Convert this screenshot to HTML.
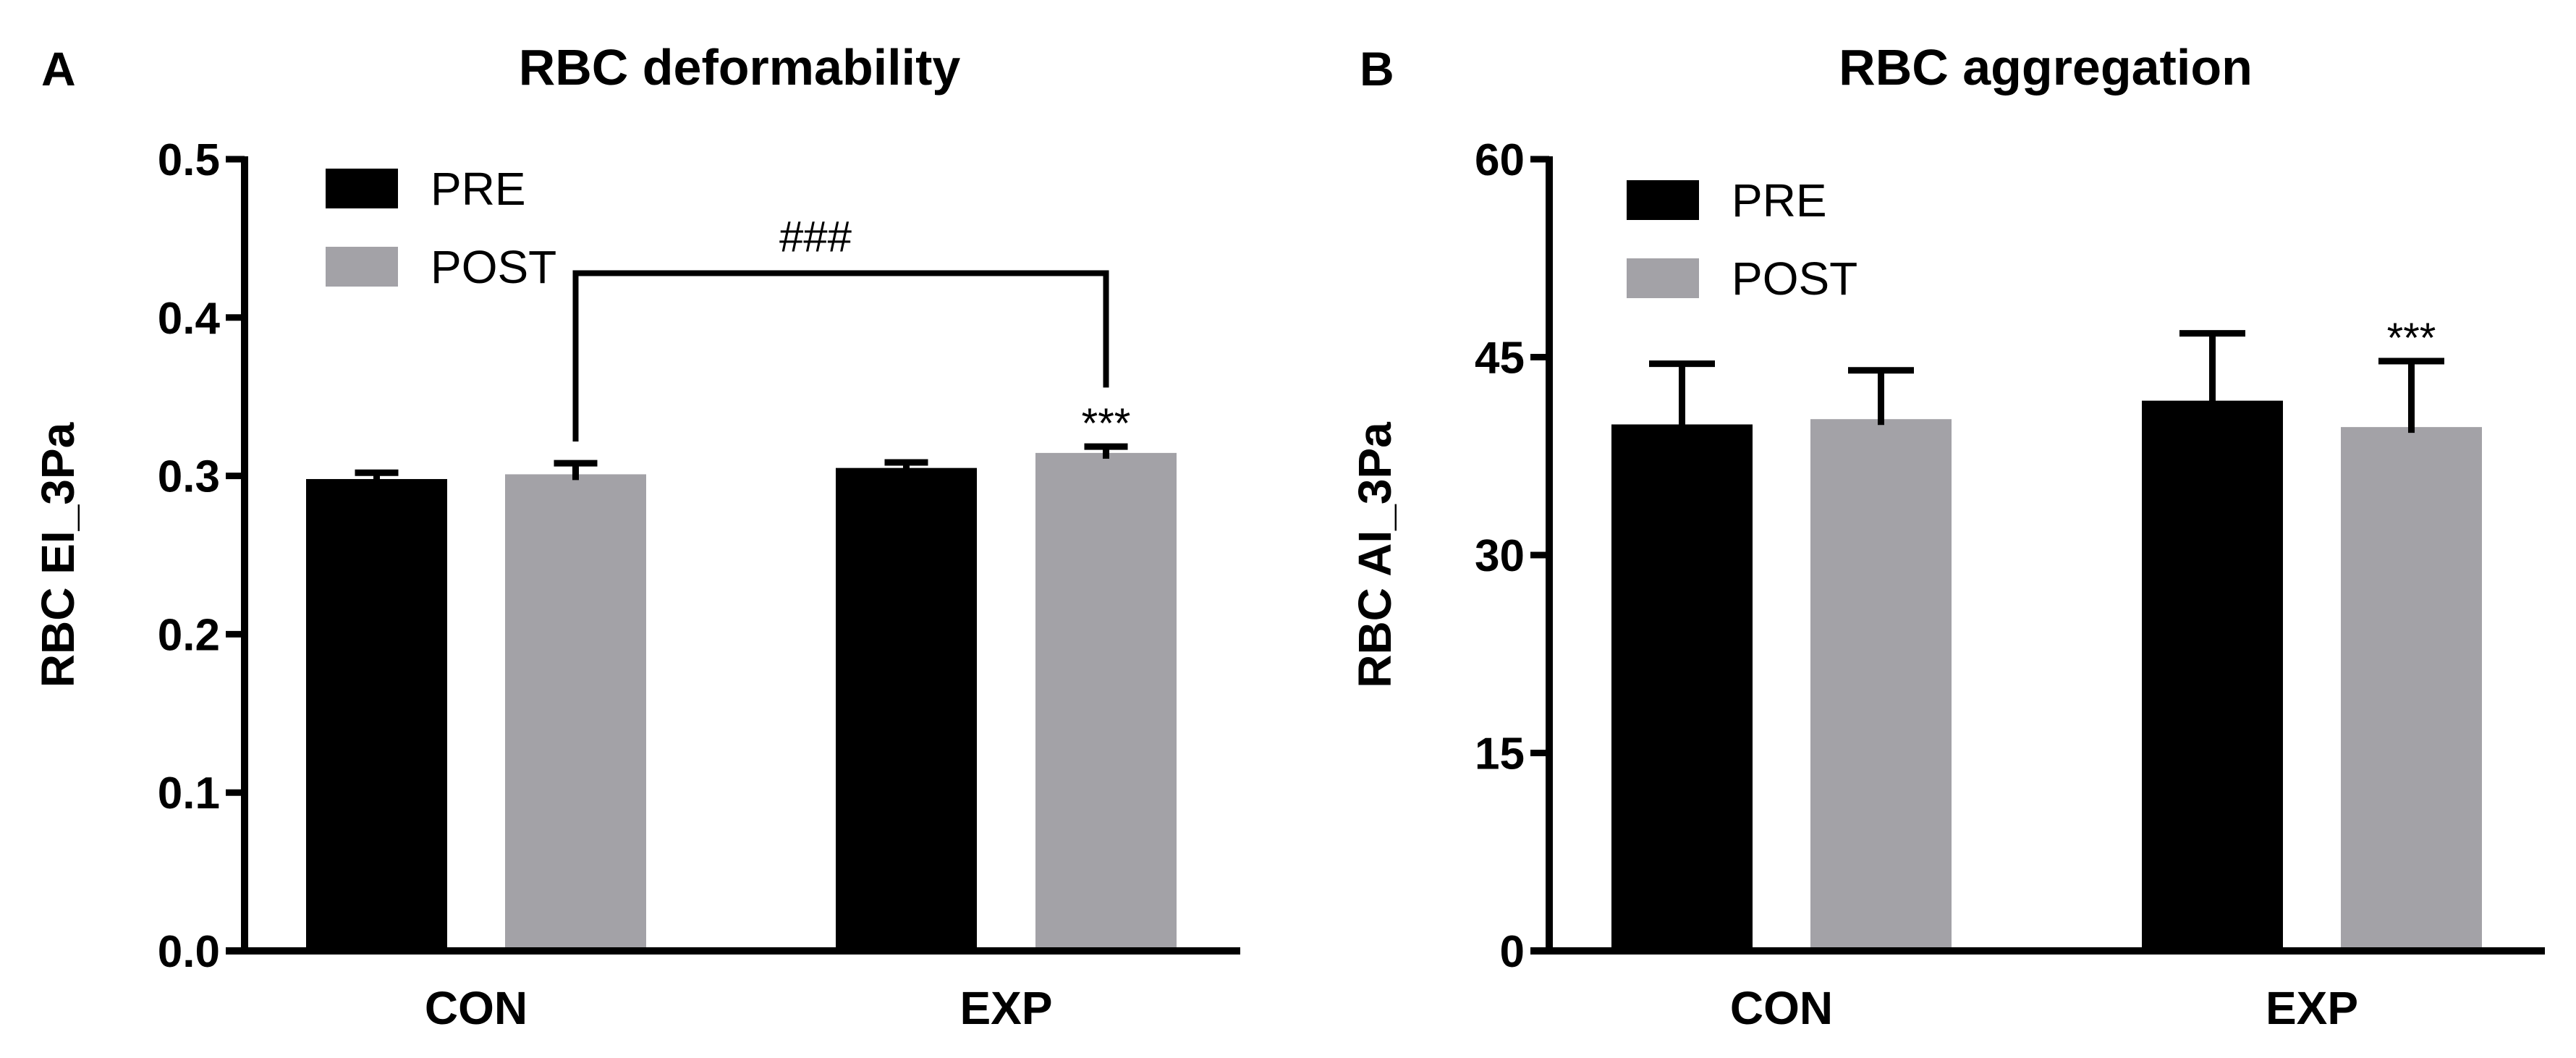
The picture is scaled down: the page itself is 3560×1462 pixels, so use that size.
<!DOCTYPE html>
<html><head><meta charset="utf-8"><style>
html,body{margin:0;padding:0;background:#fff;}
svg{display:block;}
text{font-family:"Liberation Sans",sans-serif;fill:#000;}
</style></head><body>
<svg id="fig" width="3560" height="1462" viewBox="0 0 3560 1462" xmlns="http://www.w3.org/2000/svg"></svg>
<script>
// Panel A data
const categories = ["CON", "EXP"];
const seriesNames = ["PRE", "POST"];
const defMeans = [[0.298, 0.305], [0.301, 0.3145]];  // [series][category]
const defErrs = [[0.004, 0.0035], [0.007, 0.004]];
const defTicks = ["0.0", "0.1", "0.2", "0.3", "0.4", "0.5"];
const defTickVals = [0, 0.1, 0.2, 0.3, 0.4, 0.5];
// Panel B data
const aggMeans = [[39.9, 41.7], [40.3, 39.7]];
const aggErrs = [[4.6, 5.1], [3.7, 5.0]];
const aggTicks = ["0", "15", "30", "45", "60"];
const aggTickVals = [0, 15, 30, 45, 60];
const bracketLevel = 0.428;

const NS = "http://www.w3.org/2000/svg";
const svg = document.getElementById("fig");
function mk(tag, attrs, parent) {
  const e = document.createElementNS(NS, tag);
  for (const k in attrs) e.setAttribute(k, attrs[k]);
  (parent || svg).appendChild(e);
  return e;
}
const colors = ["#000000", "#a3a2a7"];
const Y0 = 1314, Y1 = 220;

function panel(cfg) {
  const g = mk("g", {});
  
  
  const ymax = cfg.tickVals[cfg.tickVals.length - 1];
  const yS = v => Y0 - (v / ymax) * (Y0 - Y1);
  cfg.yS = yS;
  // title & letter
  let t = mk("text", {x: cfg.titleX, y: 117, "font-size": 70, "font-weight": "bold", "text-anchor": "middle"}, g);
  t.textContent = cfg.title;
  
  
  t = mk("text", {x: cfg.letterX, y: 118, "font-size": 66, "font-weight": "bold"}, g);
  t.textContent = cfg.letter;
  
  
  // y title
  t = mk("text", {x: 0, y: 0, "font-size": 64, "font-weight": "bold", "text-anchor": "middle", transform: `translate(${cfg.yTitleX},767) rotate(-90)`}, g);
  t.textContent = cfg.yTitle;
  
  
  // bars
  cfg.means.forEach((ser, si) => {
    ser.forEach((v, ci) => {
      const x = cfg.barX[ci][si];
      const top = yS(v);
      const r = mk("rect", {x: x, y: top, width: cfg.barW, height: Y0 - top, fill: colors[si]}, g);
      
      
      const cx = x + cfg.barW / 2;
      const et = yS(v + cfg.errs[si][ci]);
      const eb = mk("path", {d: `M${cx},${top + 8}V${et}M${cx - cfg.capW / 2},${et}H${cx + cfg.capW / 2}`, stroke: "#000", "stroke-width": 9, fill: "none"}, g);
      
      
    });
  });
  // axes
  const ax = mk("path", {d: `M${cfg.axisX},${Y1 - 4}V${Y0 + 5}M${cfg.axisX - 26},${Y0}H${cfg.xEnd}`, stroke: "#000", "stroke-width": 10, fill: "none"}, g);
  
  
  cfg.tickVals.forEach((v, i) => {
    const y = yS(v);
    const tk = mk("line", {x1: cfg.axisX - 26, x2: cfg.axisX, y1: y, y2: y, stroke: "#000", "stroke-width": 9}, g);
    
    
    const tl = mk("text", {x: cfg.axisX - 34, y: y + 22, "font-size": 62, "font-weight": "bold", "text-anchor": "end"}, g);
    tl.textContent = cfg.ticks[i];
    
    
  });
  categories.forEach((c, ci) => {
    const cx = (cfg.barX[ci][0] + cfg.barX[ci][1] + cfg.barW) / 2;
    const tl = mk("text", {x: cx, y: 1415, "font-size": 64, "font-weight": "bold", "text-anchor": "middle"}, g);
    tl.textContent = c;
    
    
  });
  // legend
  seriesNames.forEach((s, si) => {
    const ly = cfg.legY + si * 108;
    const lr = mk("rect", {x: cfg.legX, y: ly, width: 100, height: 55, fill: colors[si]}, g);
    
    
    const lt = mk("text", {x: cfg.legX + 145, y: ly + 50, "font-size": 64}, g);
    lt.textContent = s;
    
    
  });
  // significance stars over EXP POST
  const sx = cfg.barX[1][1] + cfg.barW / 2;
  const st = mk("text", {x: sx, y: yS(cfg.means[1][1] + cfg.errs[1][1]) - 12, "font-size": 58, "text-anchor": "middle"}, g);
  st.textContent = "***";
  
  
  return g;
}

const cfgA = {name: "panel-a-deformability", title: "RBC deformability", titleX: 1022, letter: "A", letterX: 57,
  yTitle: "RBC EI_3Pa", yTitleX: 102, means: defMeans, errs: defErrs, ticks: defTicks, tickVals: defTickVals,
  barX: [[423, 698], [1155, 1431]], barW: 195, capW: 60, axisX: 338, xEnd: 1714, legX: 450, legY: 233};
const cfgB = {name: "panel-b-aggregation", title: "RBC aggregation", titleX: 2827, letter: "B", letterX: 1879,
  yTitle: "RBC AI_3Pa", yTitleX: 1922, means: aggMeans, errs: aggErrs, ticks: aggTicks, tickVals: aggTickVals,
  barX: [[2227, 2502], [2960, 3235]], barW: 195, capW: 91, axisX: 2141, xEnd: 3517, legX: 2248, legY: 249};
const gA = panel(cfgA);
panel(cfgB);

// bracket in panel A (CON POST to EXP POST)
const bxL = cfgA.barX[0][1] + cfgA.barW / 2, bxR = cfgA.barX[1][1] + cfgA.barW / 2;
const by = cfgA.yS(bracketLevel);
const br = mk("path", {d: `M${bxL},${cfgA.yS(defMeans[1][0] + defErrs[1][0]) - 30}V${by}H${bxR}V${by + 158}`, stroke: "#000", "stroke-width": 8, fill: "none"}, gA);


const ht = mk("text", {x: (bxL + bxR) / 2 - 35, y: by - 30, "font-size": 60, "text-anchor": "middle"}, gA);
ht.textContent = "###";


</script>
</body></html>
